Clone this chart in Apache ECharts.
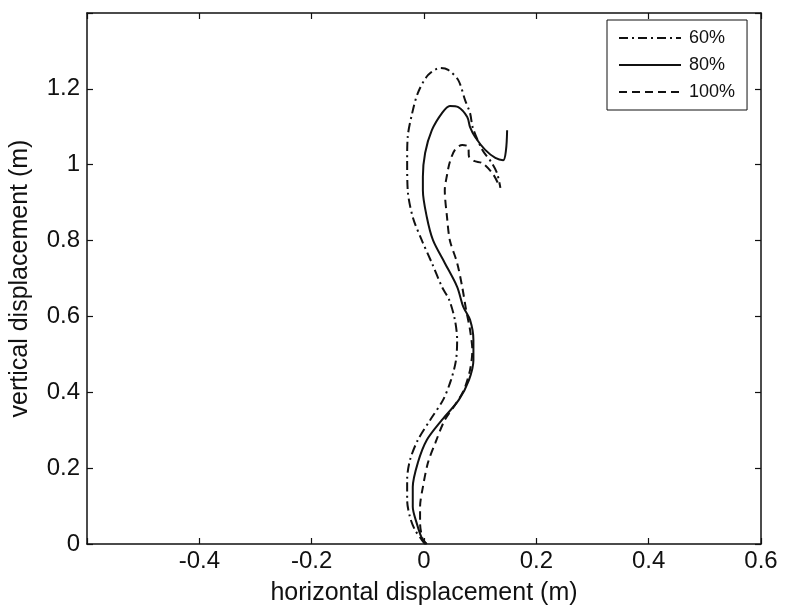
<!DOCTYPE html>
<html>
<head>
<meta charset="utf-8">
<script src="https://cdn.jsdelivr.net/npm/echarts@6/dist/echarts.min.js"></script>
<style>
  html, body { margin: 0; padding: 0; background: #fff; }
  #chart { width: 791px; height: 608px; }
</style>
</head>
<body>
<div id="chart"></div>
<script>
// Trajectory for each loading level: horizontal (x) and vertical (y) displacement in metres
const seriesNames = ['60%', '80%', '100%'];

const x60 = [0.002, -0.004, -0.016, -0.025, -0.030, -0.030, -0.025, -0.011, 0.011, 0.034, 0.048, 0.057, 0.059, 0.055, 0.045, 0.032, 0.014, -0.004, -0.020, -0.029, -0.030, -0.029, -0.021, -0.011, 0.007, 0.029, 0.043, 0.061, 0.073, 0.082, 0.087, 0.104, 0.121, 0.130, 0.136];
const y60 = [0.000, 0.011, 0.037, 0.071, 0.116, 0.169, 0.221, 0.274, 0.327, 0.380, 0.432, 0.485, 0.538, 0.591, 0.643, 0.678, 0.741, 0.801, 0.862, 0.933, 1.012, 1.073, 1.136, 1.189, 1.236, 1.255, 1.250, 1.223, 1.171, 1.136, 1.097, 1.039, 1.004, 0.978, 0.939];

const x80 = [0.005, -0.004, -0.013, -0.020, -0.020, -0.011, 0.005, 0.032, 0.062, 0.080, 0.088, 0.088, 0.082, 0.070, 0.059, 0.037, 0.016, 0.005, -0.002, -0.002, 0.002, 0.014, 0.032, 0.046, 0.061, 0.077, 0.082, 0.091, 0.109, 0.127, 0.141, 0.146, 0.148];
const y80 = [0.000, 0.016, 0.055, 0.098, 0.150, 0.214, 0.274, 0.327, 0.380, 0.432, 0.485, 0.538, 0.591, 0.625, 0.678, 0.741, 0.801, 0.862, 0.933, 0.968, 1.031, 1.091, 1.136, 1.155, 1.152, 1.126, 1.099, 1.073, 1.039, 1.018, 1.012, 1.039, 1.091];

const x100 = [0.004, -0.002, -0.007, -0.007, -0.002, 0.007, 0.020, 0.037, 0.055, 0.071, 0.082, 0.086, 0.082, 0.075, 0.068, 0.059, 0.046, 0.041, 0.037, 0.041, 0.046, 0.055, 0.068, 0.079, 0.080, 0.089, 0.104, 0.123, 0.134];
const y100 = [0.000, 0.011, 0.055, 0.098, 0.150, 0.214, 0.266, 0.327, 0.366, 0.406, 0.459, 0.511, 0.564, 0.617, 0.678, 0.741, 0.801, 0.862, 0.933, 0.973, 1.007, 1.039, 1.052, 1.047, 1.022, 1.010, 1.004, 0.975, 0.944];

const xTickHidden = -0.6;
const yTickHidden = 1.4;

const pairs = (xs, ys) => xs.map((x, i) => [x, ys[i]]);

const FONT = 'Liberation Sans, Arial, sans-serif';
const INK = '#111';

const fmt = hidden => v => (Math.abs(v - hidden) < 1e-9 ? '' : String(+v.toFixed(1)));

const chart = echarts.init(document.getElementById('chart'), null, { renderer: 'canvas' });

const axisCommon = {
  axisLine: { show: true, onZero: false, lineStyle: { color: INK, width: 1.5 } },
  axisTick: { show: true, inside: true, length: 6, lineStyle: { color: INK, width: 1.2 } },
  splitLine: { show: false }
};

chart.setOption({
  backgroundColor: '#fff',
  animation: false,
  grid: { left: 87, right: 30, top: 13, bottom: 64, containLabel: false, outerBoundsMode: 'none' },
  legend: {
    data: seriesNames,
    orient: 'vertical',
    left: 607,
    top: 20,
    padding: [9, 12, 9, 11],
    itemGap: 9,
    itemWidth: 62,
    itemHeight: 14,
    backgroundColor: '#fff',
    borderColor: INK,
    borderWidth: 1,
    borderRadius: 0,
    itemStyle: { opacity: 0 },
    textStyle: { fontFamily: FONT, fontSize: 18, color: INK, padding: [0, 0, 0, 3] }
  },
  xAxis: [
    Object.assign({
      type: 'value', position: 'bottom', min: -0.6, max: 0.6, interval: 0.2,
      name: 'horizontal displacement (m)', nameLocation: 'middle', nameGap: 37,
      nameTextStyle: { fontFamily: FONT, fontSize: 25, color: INK },
      axisLabel: { formatter: fmt(xTickHidden), fontFamily: FONT, fontSize: 24, color: INK, margin: 5 }
    }, axisCommon),
    Object.assign({
      type: 'value', position: 'top', min: -0.6, max: 0.6, interval: 0.2,
      axisLabel: { show: false }
    }, axisCommon)
  ],
  yAxis: [
    Object.assign({
      type: 'value', position: 'left', min: 0, max: 1.4, interval: 0.2,
      name: 'vertical displacement (m)', nameLocation: 'middle', nameGap: 54,
      nameTextStyle: { fontFamily: FONT, fontSize: 25, color: INK },
      axisLabel: { formatter: fmt(yTickHidden), fontFamily: FONT, fontSize: 24, color: INK, margin: 7 }
    }, axisCommon),
    Object.assign({
      type: 'value', position: 'right', min: 0, max: 1.4, interval: 0.2,
      axisLabel: { show: false }
    }, axisCommon)
  ],
  series: [
    {
      name: seriesNames[0], type: 'line', data: pairs(x60, y60),
      symbol: 'none', smooth: 0.3,
      lineStyle: { color: INK, width: 2, type: [9, 4, 2, 4] },
      itemStyle: { color: INK }
    },
    {
      name: seriesNames[1], type: 'line', data: pairs(x80, y80),
      symbol: 'none', smooth: 0.3,
      lineStyle: { color: INK, width: 2, type: 'solid' },
      itemStyle: { color: INK }
    },
    {
      name: seriesNames[2], type: 'line', data: pairs(x100, y100),
      symbol: 'none', smooth: 0.3,
      lineStyle: { color: INK, width: 2, type: [8, 5] },
      itemStyle: { color: INK }
    }
  ]
});
</script>
</body>
</html>
